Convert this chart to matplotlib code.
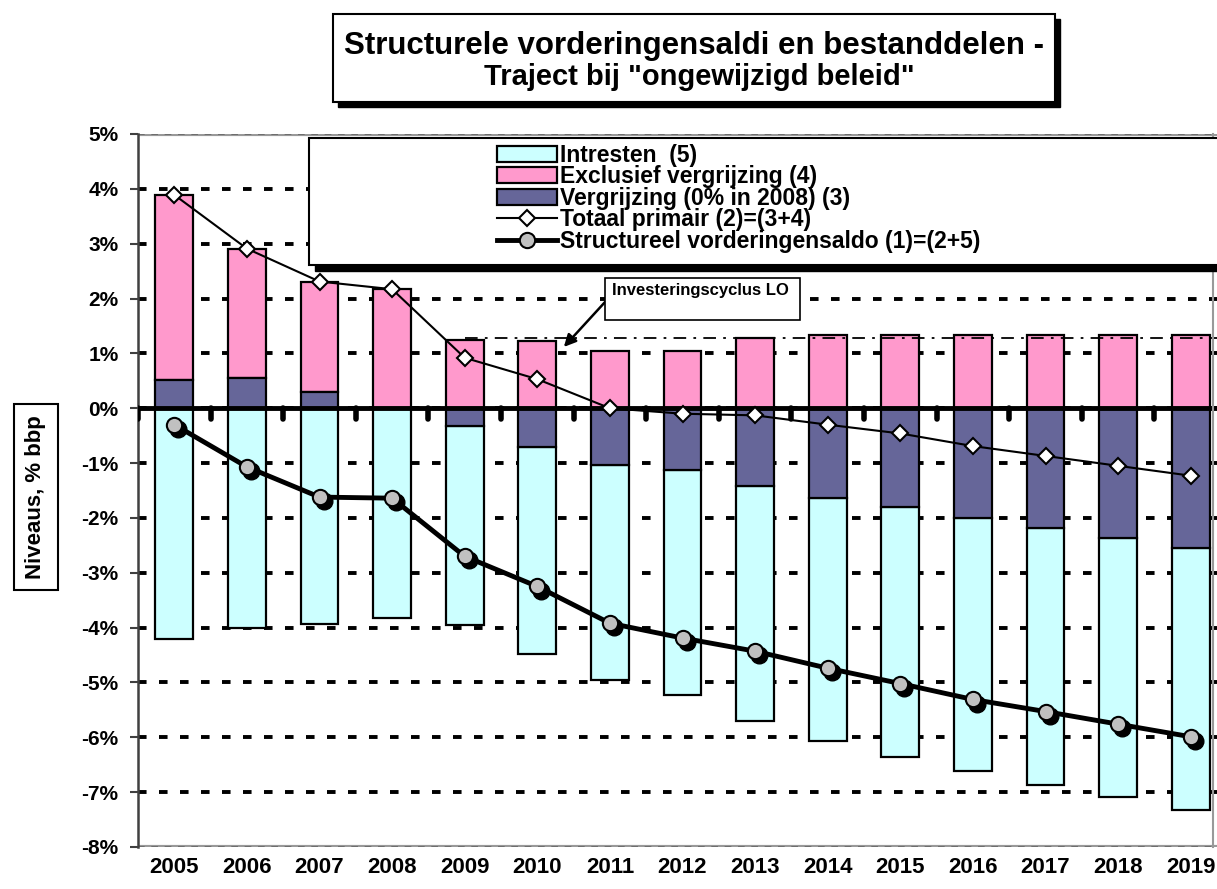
import numpy as np
import matplotlib
matplotlib.use("Agg")
import matplotlib.pyplot as plt
import matplotlib.transforms as mtransforms
from matplotlib.patches import Rectangle
from matplotlib.lines import Line2D

plt.rcParams['font.family'] = ['Liberation Sans', 'DejaVu Sans']
plt.rcParams['font.weight'] = 'bold'

years = ['2005', '2006', '2007', '2008', '2009', '2010', '2011', '2012',
         '2013', '2014', '2015', '2016', '2017', '2018', '2019']
intresten = [-4.20, -4.00, -3.94, -3.83, -3.63, -3.78, -3.91, -4.09,
             -4.30, -4.44, -4.56, -4.61, -4.68, -4.71, -4.77]
exclusief = [3.37, 2.35, 2.02, 2.17, 1.24, 1.22, 1.04, 1.04,
             1.28, 1.33, 1.33, 1.33, 1.33, 1.33, 1.33]
vergrijzing = [0.52, 0.56, 0.29, 0.0, -0.33, -0.70, -1.04, -1.13,
               -1.41, -1.63, -1.80, -2.01, -2.19, -2.37, -2.55]
primair = [3.89, 2.91, 2.31, 2.17, 0.92, 0.53, 0.0, -0.10,
           -0.13, -0.30, -0.46, -0.69, -0.87, -1.05, -1.23]
structureel = [-0.30, -1.07, -1.62, -1.64, -2.70, -3.25, -3.92, -4.19,
               -4.43, -4.74, -5.02, -5.31, -5.53, -5.76, -5.99]
invest_level = 1.28

c_int = '#CCFFFF'
c_excl = '#FF99CC'
c_verg = '#666699'

W, H = 1217, 889
fig = plt.figure(figsize=(W / 100, H / 100), dpi=100)
ax = fig.add_axes([138 / W, 1 - 847 / H, (1227 - 138) / W, (847 - 134) / H])

x = np.arange(len(years))
verg = np.array(vergrijzing)
excl_bottom = np.maximum(verg, 0)
int_bottom = np.minimum(verg, 0)

bw = 0.52
b_int = ax.bar(x, intresten, bw, bottom=int_bottom, color=c_int, edgecolor='black', lw=1.6, zorder=2,
               label='Intresten  (5)')
b_excl = ax.bar(x, exclusief, bw, bottom=excl_bottom, color=c_excl, edgecolor='black', lw=1.6, zorder=2,
                label='Exclusief vergrijzing (4)')
b_verg = ax.bar(x, vergrijzing, bw, color=c_verg, edgecolor='black', lw=1.6, zorder=2,
                label='Vergrijzing (0% in 2008) (3)')

# zero line with category separators
ax.axhline(0, color='black', lw=3.5, zorder=4)
bounds = np.arange(len(years) + 1) - 0.5
ax.vlines(bounds, 0, -0.2, color='black', lw=4, zorder=4, capstyle='round')

# investeringscyclus reference line
ax.plot([4, 14.5], [invest_level, invest_level], color='black', lw=1.3, ls=(0, (7, 4, 1.5, 4)), zorder=3)

# totaal primair
l_prim, = ax.plot(x, primair, '-D', color='black', lw=1.5, ms=8, mfc='white', mec='black', mew=1.5, zorder=5,
                  label='Totaal primair (2)=(3+4)')

# structureel saldo with shadowed markers
shadow = mtransforms.offset_copy(ax.transData, fig=fig, x=3, y=-3, units='points')
ax.plot(x, structureel, 'o', color='black', ms=12, transform=shadow, zorder=6)
l_str, = ax.plot(x, structureel, '-o', color='black', lw=3.5, ms=11, mfc='#C0C0C0', mec='black', mew=1.5,
                 zorder=7, label='Structureel vorderingensaldo (1)=(2+5)')

# axes styling
ax.set_xlim(-0.5, 14.5)
ax.set_ylim(-8, 5)
ax.set_yticks(range(-8, 6))
ax.set_yticklabels([f'{v}%' for v in range(-8, 6)], fontsize=15, fontweight='bold')
ax.yaxis.grid(True, color='black', lw=2.8, ls=(0, (2.2, 3.2)), zorder=0)
ax.set_axisbelow(True)
for lvl in (5, -8):
    ax.axhline(lvl, color='#999999', lw=3, zorder=1)
    ax.axhline(lvl, color='#666666', lw=1.2, ls=(0, (4, 4)), zorder=1)

for s in ['top', 'right', 'bottom']:
    ax.spines[s].set_visible(False)
ax.spines['left'].set_color('#404040')
ax.spines['left'].set_linewidth(1.8)
ax.tick_params(axis='y', direction='out', length=6, width=1.5, color='#404040', pad=8)
ax.set_xticks(x)
ax.set_xticklabels(years, fontsize=16, fontweight='bold')
ax.tick_params(axis='x', length=0, pad=7)

fig.add_artist(Line2D([1213 / W, 1213 / W], [1 - 847 / H, 1 - 134 / H], color='#999999', lw=1.5))

# boxes with shadow
def shadow_box(x0, y0, x1, y1, off=5, lw=1.5):
    fig.add_artist(Rectangle((x0 / W + off / W, 1 - y1 / H - off / H), (x1 - x0) / W, (y1 - y0) / H,
                             facecolor='black', edgecolor='black', zorder=10))
    fig.add_artist(Rectangle((x0 / W, 1 - y1 / H), (x1 - x0) / W, (y1 - y0) / H,
                             facecolor='white', edgecolor='black', lw=lw, zorder=11))

shadow_box(333, 14, 1055, 102, off=5)
fig.text(694 / W, 1 - 46 / H, 'Structurele vorderingensaldi en bestanddelen -', ha='center', va='center',
         fontsize=22.5, fontweight='bold', zorder=12)
fig.text(699 / W, 1 - 77 / H, 'Traject bij "ongewijzigd beleid"', ha='center', va='center',
         fontsize=21, fontweight='bold', zorder=12)

shadow_box(309, 138, 1240, 265, off=6)
leg = fig.legend(handles=[b_int, b_excl, b_verg, l_prim, l_str], loc='upper left',
                 bbox_to_anchor=(497 / W, 1 - 144 / H), frameon=False,
                 handlelength=2.6, handletextpad=0.15, labelspacing=-0.07, borderpad=0, borderaxespad=0,
                 prop={'weight': 'bold', 'size': 16.5})
leg.set_zorder(13)

# investeringscyclus label
fig.add_artist(Rectangle((605 / W, 1 - 320 / H), 195 / W, 42 / H, facecolor='white', edgecolor='black',
                         lw=1.2, zorder=8))
fig.text(612 / W, 1 - 291 / H, 'Investeringscyclus LO', ha='left', va='center', fontsize=12,
         fontweight='bold', zorder=9)
ax.annotate('', xy=(5.34, 1.08), xytext=(5.97, 1.99),
            arrowprops=dict(arrowstyle='-|>', color='black', lw=1.8, mutation_scale=18), zorder=9)

# y label
fig.text(36 / W, 1 - 497 / H, 'Niveaus, % bbp', rotation=90, ha='center', va='center', fontsize=16,
         fontweight='bold', bbox=dict(boxstyle='square,pad=0.5', facecolor='white', edgecolor='black', lw=1.5))

fig.savefig('out.png', dpi=100)
